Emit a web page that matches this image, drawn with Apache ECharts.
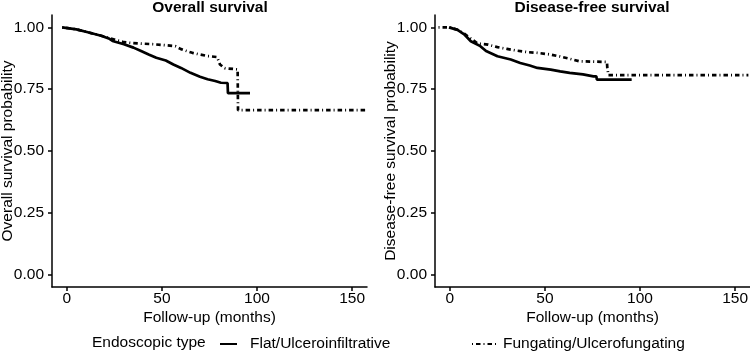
<!DOCTYPE html>
<html>
<head>
<meta charset="utf-8">
<script src="https://cdn.jsdelivr.net/npm/echarts@6/dist/echarts.min.js"></script>
<style>
  html, body { margin: 0; padding: 0; background: #fff; }
  #chart { width: 750px; height: 352px; }
</style>
</head>
<body>
<div id="chart"></div>
<script>
// panel titles / axis names
var panelTitles = ["Overall survival", "Disease-free survival"];
var yNames = ["Overall survival probability", "Disease-free survival probability"];
var xName = "Follow-up (months)";
var legendTitle = "Endoscopic type";
var groups = ["Flat/Ulceroinfiltrative", "Fungating/Ulcerofungating"];

var xTicks = [0, 50, 100, 150];
var yTicks = [0, 0.25, 0.5, 0.75, 1];

// overall survival, [months, probability]
var osFlat = [
  [-2.5, 1], [5, 0.992], [11, 0.98], [18, 0.966], [22, 0.955], [24, 0.945],
  [30, 0.932], [35, 0.918], [39, 0.904], [43, 0.89], [47, 0.877], [52, 0.866],
  [56, 0.85], [60, 0.836], [65, 0.816], [70, 0.8], [74, 0.79], [78, 0.783],
  [81, 0.776], [84.5, 0.775], [84.7, 0.734], [96.3, 0.734]
];
var osFung = [
  [-2.5, 1], [5, 0.992], [11, 0.98], [18, 0.966], [22, 0.958], [26, 0.948],
  [30, 0.94], [34, 0.937], [40, 0.934], [45, 0.932], [50, 0.929], [57, 0.924],
  [60, 0.912], [63, 0.904], [66, 0.897], [70, 0.89], [74, 0.884], [79, 0.88],
  [80.5, 0.85], [83, 0.835], [83.2, 0.83], [89.8, 0.83], [90, 0.665], [157, 0.665]
];

// disease-free survival
var dfsFlat = [
  [-0.5, 1], [4, 0.99], [7.5, 0.972], [11, 0.944], [16, 0.924], [19, 0.904],
  [25, 0.883], [32, 0.87], [37, 0.856], [42, 0.846], [46, 0.836], [53, 0.829],
  [58, 0.822], [63, 0.816], [70, 0.81], [75.5, 0.802], [77, 0.802], [77.3, 0.789],
  [95.6, 0.789]
];
var dfsFung = [
  [-6, 1], [0, 1], [4, 0.99], [7.5, 0.975], [11, 0.955], [14.5, 0.935], [20, 0.93],
  [25, 0.92], [30, 0.913], [35, 0.906], [40.7, 0.9], [46, 0.897], [53, 0.89],
  [58, 0.882], [63, 0.873], [68, 0.863], [82.6, 0.86], [82.8, 0.835],
  [83.2, 0.835], [83.4, 0.807], [157, 0.807]
];

var FONT = "Liberation Sans, Arial, sans-serif";
var FS = 15.5;
var chart = echarts.init(document.getElementById("chart"));

function xAxis(i) {
  return {
    type: "value", gridIndex: i, min: -7.85, max: 157.85,
    name: xName, nameLocation: "middle", nameGap: 23, nameMoveOverlap: false,
    nameTextStyle: { color: "#000", fontSize: FS, fontFamily: FONT },
    axisLine: { show: true, onZero: false, lineStyle: { color: "#000", width: 1.5 } },
    axisTick: { show: true, length: 4, customValues: xTicks, lineStyle: { color: "#000", width: 1.5 } },
    axisLabel: { customValues: xTicks, color: "#000", fontSize: FS, fontFamily: FONT, margin: 4 },
    splitLine: { show: false }
  };
}
function yAxis(i) {
  return {
    type: "value", gridIndex: i, min: -0.05, max: 1.05,
    name: yNames[i], nameLocation: "middle", nameGap: 36.5, nameRotate: 90, nameMoveOverlap: false,
    nameTextStyle: { color: "#000", fontSize: FS, fontFamily: FONT },
    axisLine: { show: true, onZero: false, lineStyle: { color: "#000", width: 1.5 } },
    axisTick: { show: true, length: 4, customValues: yTicks, lineStyle: { color: "#000", width: 1.5 } },
    axisLabel: {
      customValues: yTicks, color: "#000", fontSize: FS, fontFamily: FONT, margin: 8,
      formatter: function (v) { return v.toFixed(2); }
    },
    splitLine: { show: false }
  };
}

var solid = { color: "#000", width: 2.7, type: "solid" };
var dotdash = { color: "#000", width: 2.7, type: [1, 3, 4.5, 3], cap: "butt" };

function km(name, data, i, ls) {
  return {
    name: name, type: "line", data: data,
    xAxisIndex: i, yAxisIndex: i, showSymbol: false, symbol: "none",
    itemStyle: { color: "#000" }, lineStyle: ls, animation: false
  };
}

var legendBase = {
  top: 336, padding: 0, itemHeight: 14, itemGap: 0, selectedMode: false,
  itemStyle: { opacity: 0 }
};

var option = {
  animation: false,
  grid: [
    { left: 52, top: 15, width: 315, height: 272, outerBoundsMode: "none" },
    { left: 435, top: 15, width: 315, height: 272, outerBoundsMode: "none" }
  ],
  xAxis: [xAxis(0), xAxis(1)],
  yAxis: [yAxis(0), yAxis(1)],
  graphic: [
    { type: "text", x: 210, y: 8, style: { text: panelTitles[0], fill: "#000", font: "bold " + FS + "px " + FONT, textAlign: "center", textVerticalAlign: "middle" } },
    { type: "text", x: 592, y: 8, style: { text: panelTitles[1], fill: "#000", font: "bold " + FS + "px " + FONT, textAlign: "center", textVerticalAlign: "middle" } },
    { type: "text", x: 92, y: 343, style: { text: legendTitle, fill: "#000", font: FS + "px " + FONT, textAlign: "left", textVerticalAlign: "middle" } }
  ],
  legend: [
    Object.assign({}, legendBase, {
      data: [groups[0]], left: 219, itemWidth: 17,
      textStyle: { color: "#000", fontSize: FS, fontFamily: FONT, padding: [0, 0, 0, 8] }
    }),
    Object.assign({}, legendBase, {
      data: [groups[1]], left: 471, itemWidth: 24,
      textStyle: { color: "#000", fontSize: FS, fontFamily: FONT, padding: [0, 0, 0, 2] }
    })
  ],
  series: [
    km(groups[0], osFlat, 0, solid),
    km(groups[1], osFung, 0, dotdash),
    km(groups[0], dfsFlat, 1, solid),
    km(groups[1], dfsFung, 1, dotdash)
  ]
};
chart.setOption(option);
</script>
</body>
</html>
